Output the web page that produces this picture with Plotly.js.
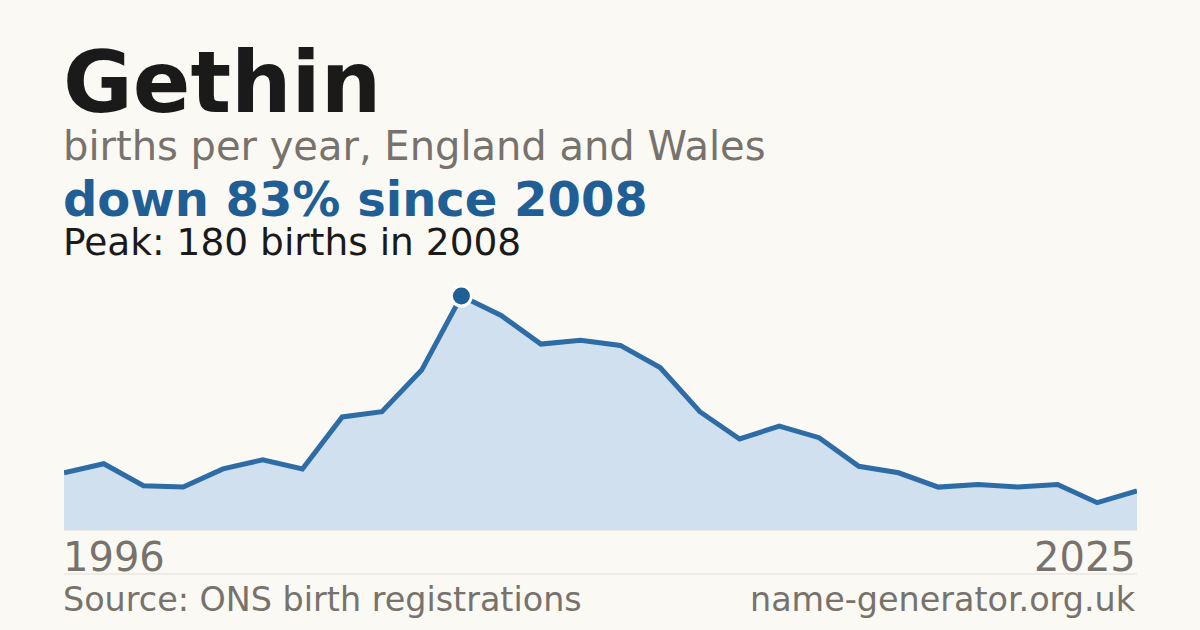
<!DOCTYPE html>
<html>
<head>
<meta charset="utf-8">
<script src="https://cdn.plot.ly/plotly-3.0.1.min.js"></script>
<style>
html,body{margin:0;padding:0;background:#faf9f4;}
#chart{width:1200px;height:630px;}
</style>
</head>
<body>
<div id="chart"></div>
<script>
// Data
var years = ["1996","1997","1998","2000","2001","2002","2004","2005","2006","2007",
             "2008","2009","2010","2011","2012","2013","2014","2015","2016","2017",
             "2018","2019","2020","2021","2022","2023","2024","2025"];
var births = [44, 51, 34, 33, 47, 54, 47, 87, 91, 123,
              180, 165, 143, 146, 142, 125, 91, 70, 80, 71,
              49, 44, 33, 35, 33, 35, 21, 30];
var titleText = "Gethin";
var subtitleText = "births per year, England and Wales";
var sourceText = "Source: ONS birth registrations";
var siteText = "name-generator.org.uk";

var peakVal = Math.max.apply(null, births);
var peakIdx = births.indexOf(peakVal);
var lastVal = births[births.length - 1];
var pctDown = Math.round((1 - lastVal / peakVal) * 100);

var FONT = "DejaVu Sans, sans-serif";
var plotTop = 270, plotBottom = 530, plotH = plotBottom - plotTop;
function py(px){ return (plotBottom - px) / plotH; }

var traces = [
  {
    x: years, y: births, type: "scatter", mode: "lines",
    fill: "tozeroy", fillcolor: "#d0e0ef",
    line: {color: "#2d6ca5", width: 5},
    hoverinfo: "skip"
  },
  {
    x: [years[peakIdx]], y: [peakVal], type: "scatter", mode: "markers",
    marker: {size: 20, color: "#1f5f96", line: {color: "#ffffff", width: 3}},
    hoverinfo: "skip"
  }
];

function ann(text, x, xanchor, ypx, size, color, bold){
  return {
    text: bold ? "<b>" + text + "</b>" : text,
    xref: "paper", yref: "paper", x: x, y: py(ypx),
    xanchor: xanchor, yanchor: "middle", showarrow: false,
    borderpad: 0, xshift: xanchor === "left" ? -2 : 0,
    font: {family: FONT, size: size, color: color}
  };
}

var layout = {
  width: 1200, height: 630,
  paper_bgcolor: "#faf9f4", plot_bgcolor: "#faf9f4",
  margin: {l: 64, r: 63, t: plotTop, b: 630 - plotBottom, pad: 0},
  showlegend: false,
  xaxis: {type: "category", range: [0, years.length - 1], showgrid: false,
          zeroline: false, showticklabels: false, ticks: "", showline: false, fixedrange: true},
  yaxis: {range: [0, 200], showgrid: false, zeroline: false, showticklabels: false,
          ticks: "", showline: false, fixedrange: true},
  shapes: [
    {type: "line", xref: "paper", yref: "paper", x0: 0, x1: 1, y0: 0, y1: 0,
     line: {color: "#dedbd5", width: 1}},
    {type: "line", xref: "paper", yref: "paper", x0: 0, x1: 1, y0: py(574), y1: py(574),
     line: {color: "#e2dfda", width: 1}}
  ],
  annotations: [
    ann(titleText, 0, "left", 83, 85, "#1a1a1a", true),
    ann(subtitleText, 0, "left", 146, 40, "#77726c", false),
    ann("down " + pctDown + "% since " + years[peakIdx], 0, "left", 199, 48, "#1f5f96", true),
    ann("Peak: " + peakVal + " births in " + years[peakIdx], 0, "left", 242, 37.5, "#1a1a1a", false),
    ann(years[0], 0, "left", 557, 40, "#77726c", false),
    ann(years[years.length - 1], 1, "right", 557, 40, "#77726c", false),
    ann(sourceText, 0, "left", 599, 33.4, "#77726c", false),
    ann(siteText, 1, "right", 599, 33.4, "#77726c", false)
  ]
};

Plotly.newPlot("chart", traces, layout, {displayModeBar: false, staticPlot: true});
</script>
</body>
</html>
